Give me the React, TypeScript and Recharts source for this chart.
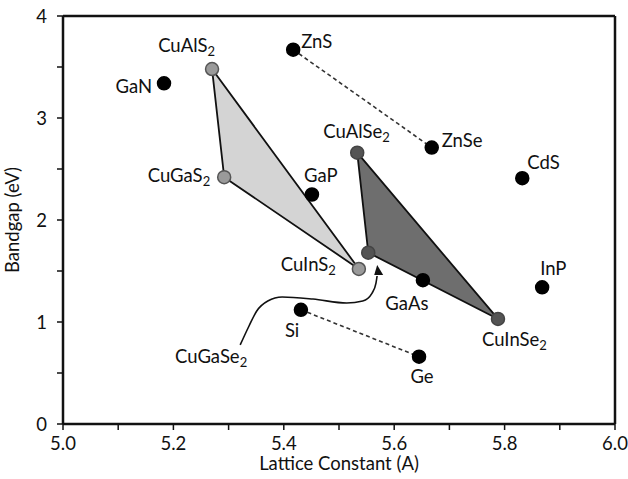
import React from "react";
import { ScatterChart, Scatter, XAxis, YAxis } from "recharts";

// binary semiconductors
const binaries = ["GaN", "ZnS", "ZnSe", "CdS", "GaP", "InP", "GaAs", "Si", "Ge"];
const binaryLattice = [5.183, 5.417, 5.668, 5.832, 5.451, 5.868, 5.652, 5.431, 5.645];
const binaryGap = [3.34, 3.67, 2.71, 2.41, 2.25, 1.34, 1.41, 1.12, 0.66];

// Cu-III-S2 chalcopyrites
const sulfides = ["CuAlS2", "CuGaS2", "CuInS2"];
const sulfideLattice = [5.27, 5.292, 5.536];
const sulfideGap = [3.48, 2.42, 1.52];

// Cu-III-Se2 chalcopyrites
const selenides = ["CuAlSe2", "CuInSe2", "CuGaSe2"];
const selenideLattice = [5.533, 5.788, 5.553];
const selenideGap = [2.66, 1.03, 1.68];

// dashed tie lines between related binaries
const tieLines = [["ZnS", "ZnSe"], ["Si", "Ge"]];

// callout curve from the CuGaSe2 label up to its marker
const calloutLattice = [5.321, 5.337, 5.351, 5.371, 5.397, 5.453, 5.514, 5.543, 5.56, 5.567, 5.569];
const calloutGap = [0.775, 0.961, 1.108, 1.206, 1.245, 1.225, 1.186, 1.206, 1.284, 1.382, 1.451];
const arrowTip = { x: 5.571, y: 1.5 };

const xTicks = [5.0, 5.1, 5.2, 5.3, 5.4, 5.5, 5.6, 5.7, 5.8, 5.9, 6.0];
const yTicks = [0, 0.5, 1, 1.5, 2, 2.5, 3, 3.5, 4];

const FONT = "Lato, 'Open Sans', sans-serif";
const FS = 18.5;

type Place = [string, number, number];
const placement: Record<string, Place> = {
  GaN: ["end", -12, 10],
  ZnS: ["start", 8, -2],
  ZnSe: ["start", 10, -1],
  CdS: ["start", 5, -9],
  GaP: ["start", -8, -13],
  InP: ["start", -2, -12],
  GaAs: ["middle", -16, 30],
  Si: ["start", -16, 27],
  Ge: ["middle", 3, 26],
  CuAlS2: ["end", 3, -17],
  CuGaS2: ["end", -14, 5],
  CuInS2: ["end", -23, 2],
  CuAlSe2: ["start", -34, -15],
  CuInSe2: ["start", -16, 27],
};

const toRows = (names: string[], xs: number[], ys: number[]) =>
  names.map((name, i) => ({ name, x: xs[i], y: ys[i] }));

const binaryData = toRows(binaries, binaryLattice, binaryGap);
const sulfideData = toRows(sulfides, sulfideLattice, sulfideGap);
const selenideData = toRows(selenides, selenideLattice, selenideGap);
const tieData = tieLines.map((pair) => binaryData.filter((d) => pair.includes(d.name)));
const calloutData = calloutLattice.map((x, i) => ({ name: i === 0 ? "CuGaSe2" : "", x, y: calloutGap[i] }));

function Formula({ x, y, anchor, text }: { x: number; y: number; anchor: string; text: string }) {
  const m = text.match(/^(.*?)(\d+)$/);
  return (
    <text x={x} y={y} textAnchor={anchor as any} fontSize={FS} fontFamily={FONT} fill="#111">
      {m ? (
        <>
          {m[1]}
          <tspan dy={4} fontSize={13}>{m[2]}</tspan>
        </>
      ) : (
        text
      )}
    </text>
  );
}

const dot = (fill: string, stroke: string) => (p: any) => {
  const place = placement[p.payload.name];
  return (
    <g>
      <circle cx={p.cx} cy={p.cy} r={6.5} fill={fill} stroke={stroke} strokeWidth={1.5} />
      {place && <Formula x={p.cx + place[1]} y={p.cy + place[2]} anchor={place[0]} text={p.payload.name} />}
    </g>
  );
};

const triangle = (fill: string) => (p: any) => {
  const pts = p.points as { x: number; y: number }[];
  const d = pts.map((q, i) => `${i ? "L" : "M"}${q.x},${q.y}`).join(" ") + " Z";
  return <path d={d} fill={fill} stroke="#111" strokeWidth={1.8} strokeLinejoin="round" />;
};

const calloutLabel = (p: any) =>
  p.payload.name ? <Formula x={p.cx + 7} y={p.cy + 18} anchor="end" text={p.payload.name} /> : <g />;

const arrowHead = (p: any) => (
  <path d={`M${p.cx - 1},${p.cy - 6} L${p.cx + 5},${p.cy + 4} L${p.cx - 4},${p.cy + 4} Z`} fill="#111" />
);

const hidden = () => <g />;

const axisTick = { fill: "#111", fontSize: FS, fontFamily: FONT };
const axisLine = { stroke: "#111", strokeWidth: 2.5 };
const tickLine = { stroke: "#111", strokeWidth: 1.5 };

export default function App() {
  return (
    <div style={{ position: "absolute", left: 0, top: 0 }}>
      <ScatterChart width={628} height={479} margin={{ top: 16, right: 13, bottom: 0, left: 0 }}>
        <XAxis
          type="number"
          dataKey="x"
          domain={[5, 6]}
          ticks={xTicks}
          interval={0}
          tickSize={6}
          tickMargin={7}
          height={55}
          axisLine={axisLine}
          tickLine={tickLine}
          tick={axisTick}
          tickFormatter={(v: number) => (Math.round(v * 10) % 2 === 0 ? v.toFixed(1) : "")}
          label={{ value: "Lattice Constant (A)", position: "insideBottom", offset: 9, fill: "#111", fontSize: FS, fontFamily: FONT }}
        />
        <XAxis
          xAxisId="top"
          orientation="top"
          type="number"
          dataKey="x"
          domain={[5, 6]}
          ticks={xTicks}
          interval={0}
          mirror
          tickSize={6}
          tick={false}
          axisLine={axisLine}
          tickLine={tickLine}
        />
        <YAxis
          type="number"
          dataKey="y"
          domain={[0, 4]}
          ticks={yTicks}
          interval={0}
          width={63}
          tickSize={6}
          tickMargin={10}
          axisLine={axisLine}
          tickLine={tickLine}
          tick={axisTick}
          tickFormatter={(v: number) => (Number.isInteger(v) ? String(v) : "")}
          label={{
            content: (props: any) => {
              const vb = props.viewBox;
              const cy = vb.y + vb.height / 2;
              return (
                <text x={19} y={cy} transform={`rotate(-90, 19, ${cy})`} textAnchor="middle" fontSize={FS} fontFamily={FONT} fill="#111">
                  Bandgap (eV)
                </text>
              );
            },
          }}
        />
        <YAxis
          yAxisId="right"
          orientation="right"
          type="number"
          dataKey="y"
          domain={[0, 4]}
          ticks={yTicks}
          interval={0}
          mirror
          tickSize={6}
          tick={false}
          axisLine={axisLine}
          tickLine={tickLine}
        />

        {tieData.map((pair, i) => (
          <Scatter
            key={i}
            data={pair}
            isAnimationActive={false}
            line={{ stroke: "#333", strokeWidth: 1.6, strokeDasharray: "4 3" }}
            lineType="joint"
            shape={hidden}
          />
        ))}
        <Scatter data={sulfideData} isAnimationActive={false} line={triangle("#d4d4d4")} lineType="joint" shape={dot("#9a9a9a", "#555")} />
        <Scatter data={selenideData} isAnimationActive={false} line={triangle("#6e6e6e")} lineType="joint" shape={dot("#545454", "#444")} />
        <Scatter
          data={calloutData}
          isAnimationActive={false}
          line={{ stroke: "#111", strokeWidth: 1.6 }}
          lineType="joint"
          lineJointType="monotoneX"
          shape={calloutLabel}
        />
        <Scatter data={[arrowTip]} isAnimationActive={false} shape={arrowHead} />
        <Scatter data={binaryData} isAnimationActive={false} shape={dot("#000", "#000")} />
      </ScatterChart>
    </div>
  );
}
